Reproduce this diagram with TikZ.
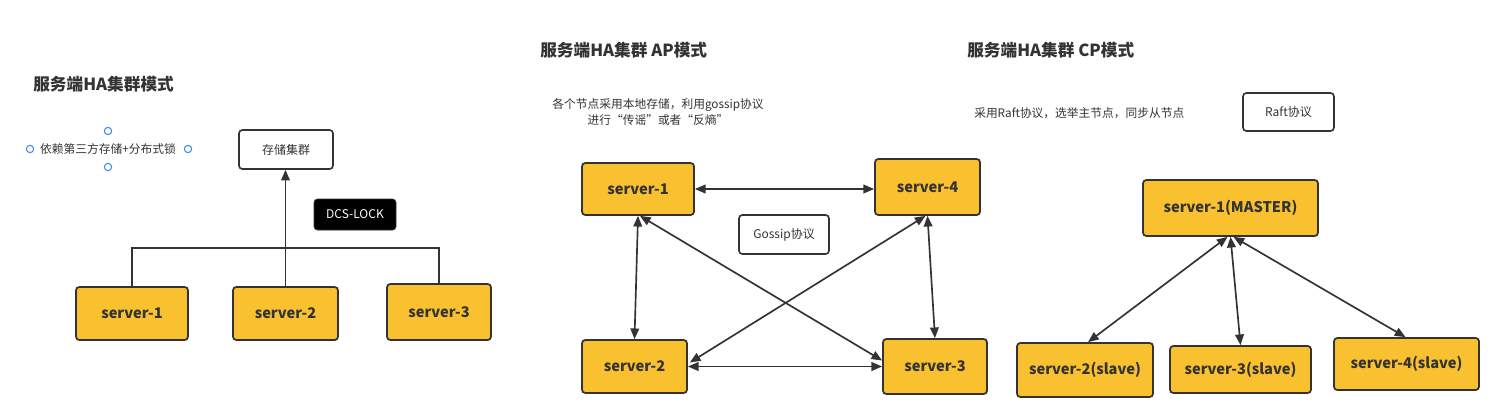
\documentclass[tikz,border=0pt]{standalone}
\usepackage{fontspec}
\setmainfont{Noto Sans CJK SC}
\usetikzlibrary{arrows.meta,calc}
\definecolor{srvfill}{HTML}{F9C02F}
\definecolor{ink}{HTML}{333333}
\definecolor{handle}{HTML}{3D8BF0}
\tikzset{
  srv/.style={draw=ink, line width=1.3pt, fill=srvfill, rounded corners=2.5pt, text=ink, font=\fontsize{11}{13}\selectfont\bfseries, inner sep=0pt},
  plain/.style={draw=ink, line width=1.2pt, fill=white, rounded corners=2.5pt, text=ink, font=\fontsize{9}{11}\selectfont, inner sep=0pt},
  blackbox/.style={draw=ink, fill=black, rounded corners=2.5pt, text=white, font=\fontsize{9}{11}\selectfont, inner sep=0pt},
  ttl/.style={text=ink, font=\fontsize{12.5}{15}\selectfont\bfseries, anchor=west, inner sep=0pt},
  note/.style={text=ink, font=\fontsize{8.8}{12}\selectfont, inner sep=0pt},
  conn/.style={draw=ink, line width=1.25pt},
  biarrow/.style={conn, {Triangle[length=8pt,width=6.5pt]}-{Triangle[length=8pt,width=6.5pt]}},
  onearrow/.style={conn, -{Triangle[length=8pt,width=6.5pt]}},
  hdl/.style={draw=handle, line width=0.8pt, fill=white, circle, minimum size=5.5pt, inner sep=0pt}
}
\begin{document}
\begin{tikzpicture}[x=0.75pt,y=-0.75pt]
\useasboundingbox[fill=white] (0,0) rectangle (1502,415);

% ---------- left: HA cluster mode ----------
\node[ttl] (t1) at (33,84) {服务端HA集群模式};
\node[note] (n1) at (108,149) {依赖第三方存储+分布式锁};
\node[hdl] (h1) at (30,149) {};
\node[hdl] (h2) at (188,149) {};
\node[hdl] (h3) at (108,131) {};
\node[hdl] (h4) at (108,167) {};

\node[plain, minimum width=94*0.75pt, minimum height=39*0.75pt] (store) at (286,149.5) {存储集群};
\node[blackbox, minimum width=82*0.75pt, minimum height=31*0.75pt] (lock) at (355,214.5) {DCS-LOCK};
\node[srv, minimum width=112*0.75pt, minimum height=53*0.75pt] (L1) at (132,313.5) {server-1};
\node[srv, minimum width=105*0.75pt, minimum height=53*0.75pt] (L2) at (285.5,313.5) {server-2};
\node[srv, minimum width=104*0.75pt, minimum height=56*0.75pt] (L3) at (439,312) {server-3};

\coordinate (bus) at (132,248);
\draw[conn] (L1.north) -- (bus) -- (bus -| L3.north) -- (L3.north);
\draw[onearrow] (L2.north) -- (L2.north |- store.south);

% ---------- middle: AP mode ----------
\node[ttl] (t2) at (540,50) {服务端HA集群 AP模式};
\node[note, align=center] (n2) at (658,112) {各个节点采用本地存储，利用gossip协议\\进行“传谣”或者“反熵”};

\node[srv, minimum width=112*0.75pt, minimum height=52*0.75pt] (A1) at (638,189) {server-1};
\node[srv, minimum width=105*0.75pt, minimum height=56*0.75pt] (A4) at (927.5,187) {server-4};
\node[srv, minimum width=105*0.75pt, minimum height=53*0.75pt] (A2) at (634.5,366.5) {server-2};
\node[srv, minimum width=104*0.75pt, minimum height=55*0.75pt] (A3) at (935,366.5) {server-3};
\node[plain, minimum width=90*0.75pt, minimum height=39*0.75pt] (gos) at (784,234.5) {Gossip协议};

\draw[biarrow] (A1.east) -- (A1.east -| A4.west);
\draw[biarrow] (A2.east) -- (A3.west);
\draw[biarrow] (A1.south) -- (A2.north);
\draw[biarrow] (A4.south) -- (A3.north);
\draw[biarrow] ($(A1.south)+(2,0)$) -- ($(A3.west)+(0,-6)$);
\draw[biarrow] ($(A4.south)+(-2,0)$) -- ($(A2.east)+(2,-4)$);

% ---------- right: CP mode ----------
\node[ttl] (t3) at (967,50) {服务端HA集群 CP模式};
\node[note, anchor=west] (n3) at (974,113) {采用Raft协议，选举主节点，同步从节点};
\node[plain, minimum width=91*0.75pt, minimum height=38*0.75pt] (raft) at (1288.5,112) {Raft协议};

\node[srv, minimum width=175*0.75pt, minimum height=56*0.75pt] (M) at (1230.5,208) {server-1(MASTER)};
\node[srv, minimum width=136*0.75pt, minimum height=54*0.75pt] (C2) at (1085,370) {server-2(slave)};
\node[srv, minimum width=141*0.75pt, minimum height=47*0.75pt] (C3) at (1240.5,369.5) {server-3(slave)};
\node[srv, minimum width=145*0.75pt, minimum height=52*0.75pt] (C4) at (1406.5,364) {server-4(slave)};

\draw[biarrow] ($(M.south)+(-3,0)$) -- ($(C2.north)+(3,0)$);
\draw[biarrow] (M.south) -- (C3.north);
\draw[biarrow] ($(M.south)+(3,0)$) -- ($(C4.north)+(-1,0)$);
\end{tikzpicture}
\end{document}
